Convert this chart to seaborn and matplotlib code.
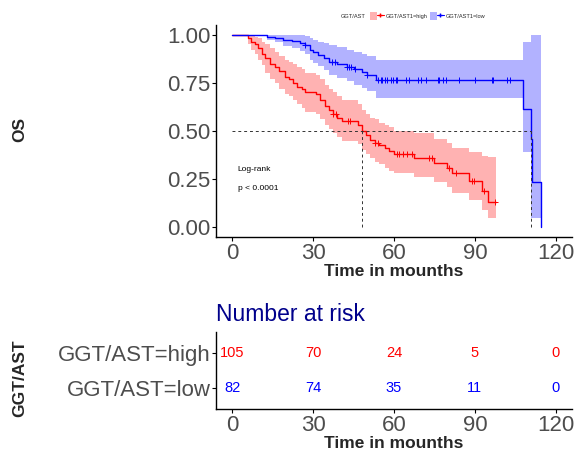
import numpy as np
import pandas as pd
import matplotlib
matplotlib.use("Agg")
import matplotlib.pyplot as plt
import seaborn as sns
from matplotlib.patches import Patch
from matplotlib.lines import Line2D
from matplotlib.legend_handler import HandlerTuple

# ---------------- data ----------------
high_time = [0, 5.9, 7, 8.5, 9.6, 11, 12.2, 14, 15.9, 17.5, 19.6, 21, 22.5, 24, 26, 27,
             31, 32.5, 34.3, 36, 37.3, 39, 40.6, 46.5, 48, 49.5, 51, 53, 54.6, 56.5,
             58.3, 60, 67.5, 75, 79.7, 81.5, 87.8, 92.6, 94.8, 97.8]
high_surv = [1.0, 0.98, 0.96, 0.95, 0.93, 0.90, 0.88, 0.85, 0.83, 0.81, 0.78, 0.77, 0.75, 0.73, 0.72, 0.70,
             0.69, 0.66, 0.63, 0.61, 0.59, 0.57, 0.55, 0.53, 0.50, 0.48, 0.455, 0.44, 0.425, 0.41,
             0.395, 0.38, 0.36, 0.335, 0.31, 0.28, 0.24, 0.19, 0.13, 0.13]
high_upper = [1.0, 1.0, 1.0, 0.99, 0.98, 0.96, 0.95, 0.93, 0.91, 0.89, 0.87, 0.86, 0.85, 0.83, 0.82, 0.80,
              0.79, 0.77, 0.74, 0.72, 0.70, 0.68, 0.66, 0.64, 0.61, 0.59, 0.57, 0.56, 0.54, 0.53,
              0.52, 0.50, 0.49, 0.46, 0.44, 0.41, 0.39, 0.37, 0.365, 0.365]
high_lower = [1.0, 0.95, 0.92, 0.90, 0.87, 0.84, 0.80, 0.77, 0.75, 0.72, 0.69, 0.68, 0.66, 0.64, 0.62, 0.60,
              0.59, 0.56, 0.53, 0.51, 0.49, 0.47, 0.45, 0.43, 0.40, 0.38, 0.36, 0.34, 0.33, 0.31,
              0.29, 0.28, 0.26, 0.235, 0.21, 0.18, 0.14, 0.09, 0.047, 0.047]
high_censor = [37.5, 38.5, 43, 43.8, 53, 54, 61, 62, 63.5, 65, 66.5, 73, 74, 80.5, 83,
               89, 89.6, 93.5, 97.5]

low_time = [0, 13, 16, 19, 22, 25, 27, 28.8, 30, 32, 34, 36, 39, 42.4, 45, 48, 50, 53.5,
            107.7, 110.7, 111.1, 114.6]
low_surv = [1.0, 0.99, 0.984, 0.974, 0.965, 0.958, 0.948, 0.92, 0.91, 0.895, 0.88, 0.86,
            0.85, 0.833, 0.82, 0.807, 0.79, 0.766, 0.615, 0.46, 0.234, 0.0]
low_upper = [1.0, 1.0, 1.0, 1.0, 1.0, 1.0, 0.995, 0.98, 0.97, 0.96, 0.955, 0.945,
             0.935, 0.92, 0.91, 0.90, 0.89, 0.87, 0.964, 1.0, 1.0, 1.0]
low_lower = [1.0, 0.97, 0.96, 0.94, 0.93, 0.915, 0.90, 0.87, 0.855, 0.835, 0.815, 0.79,
             0.775, 0.76, 0.74, 0.725, 0.705, 0.672, 0.39, 0.05, 0.05, 0.05]
low_censor = [27, 37, 38, 42.5, 43.3, 44.2, 45.4, 50, 54, 55.2, 55.7, 56.5, 57.5, 59, 59.5,
              60.8, 61, 64.5, 65.7, 68.8, 70, 71.9, 76.2, 76.8, 78, 79.3, 84.1, 90,
              96.2, 96.8, 102, 102.9]

risk_times = [0, 30, 60, 90, 120]
risk_high = [105, 70, 24, 5, 0]
risk_low = [82, 74, 35, 11, 0]
groups = ["GGT/AST=high", "GGT/AST=low"]
legend_labels = ["GGT/AST1=high", "GGT/AST1=low"]
x_ticks = [0, 30, 60, 90, 120]
y_ticks = [0.0, 0.25, 0.5, 0.75, 1.0]
median_high = 48
median_low = 110.9

RED = "#FF0000"
BLUE = "#0000FF"
GREY = "#4D4D4D"

sns.set_theme(style="white")
plt.rcParams["font.family"] = ["Liberation Sans", "DejaVu Sans"]

fig = plt.figure(figsize=(5.76, 4.58), dpi=100)
W, H = 576, 458


def ax_rect(l, t, r, b):
    return [l / W, 1 - b / H, (r - l) / W, (b - t) / H]


ax = fig.add_axes(ax_rect(216, 25, 572, 237))
ax2 = fig.add_axes(ax_rect(216, 332, 572, 409))

df = pd.concat([
    pd.DataFrame({"time": high_time, "surv": high_surv, "group": "high"}),
    pd.DataFrame({"time": low_time, "surv": low_surv, "group": "low"}),
])

# CI bands
ax.fill_between(high_time, high_lower, high_upper, step="post", color=RED, alpha=0.3, lw=0)
ax.fill_between(low_time, low_lower, low_upper, step="post", color=BLUE, alpha=0.3, lw=0)

sns.lineplot(data=df, x="time", y="surv", hue="group", palette={"high": RED, "low": BLUE},
             drawstyle="steps-post", estimator=None, sort=False, lw=1.0, ax=ax, legend=False)


def surv_at(times, surv, t):
    idx = np.searchsorted(times, t, side="right") - 1
    return np.asarray(surv)[idx]


ax.scatter(high_censor, [surv_at(high_time, high_surv, t) for t in high_censor],
           marker="+", s=16, color=RED, linewidths=0.7, zorder=4)
ax.scatter(low_censor, [surv_at(low_time, low_surv, t) for t in low_censor],
           marker="+", s=16, color=BLUE, linewidths=0.7, zorder=4)

# median lines
dash = dict(color="#333333", lw=0.7, ls=(0, (3, 3)))
ax.plot([0, median_low], [0.5, 0.5], **dash)
ax.plot([median_high, median_high], [0, 0.5], **dash)
ax.plot([median_low, median_low], [0, 0.5], **dash)

ax.text(2, 0.30, "Log-rank", fontsize=6, color="black", va="center")
ax.text(2, 0.203, "p < 0.0001", fontsize=6, color="black", va="center")

ax.set_xlim(-6, 126)
ax.set_ylim(-0.05, 1.05)
ax.set_xticks(x_ticks)
ax.set_yticks(y_ticks)
ax.set_yticklabels([f"{v:.2f}" for v in y_ticks])
ax.set_xlabel("Time in mounths", fontsize=12.5, fontweight="bold", labelpad=0)
ax.set_ylabel("")
for a in (ax, ax2):
    for s in ("top", "right"):
        a.spines[s].set_visible(False)
    for s in ("left", "bottom"):
        a.spines[s].set_color("black")
        a.spines[s].set_linewidth(1.0)
    a.tick_params(axis="both", which="both", length=3, width=0.8, color="black",
                  labelsize=16, labelcolor=GREY, pad=1, left=True, bottom=True)
    a.grid(False)

fig.text(20 / W, 1 - 130 / H, "OS", rotation=90, fontsize=12.5, fontweight="bold",
         ha="center", va="center")

# legend
fig.text(341 / W, 1 - 16 / H, "GGT/AST", fontsize=4.1, ha="left", va="center")
h1 = (Patch(facecolor=RED, alpha=0.3, edgecolor="none"),
      Line2D([], [], color=RED, lw=0.8, marker="+", markersize=3.5))
h2 = (Patch(facecolor=BLUE, alpha=0.3, edgecolor="none"),
      Line2D([], [], color=BLUE, lw=0.8, marker="+", markersize=3.5))
fig.legend([h1, h2], legend_labels, handler_map={tuple: HandlerTuple(ndivide=None)},
           loc="center left", bbox_to_anchor=(370 / W, 1 - 16 / H), ncol=2, frameon=False,
           fontsize=4.1, handlelength=2.4, handleheight=2.0, handletextpad=0.3,
           columnspacing=0.5, borderpad=0, borderaxespad=0)

# risk table
ax2.set_xlim(-6, 126)
ax2.set_ylim(0.42, 2.58)
for t, n in zip(risk_times, risk_high):
    ax2.text(t, 2, str(n), color=RED, fontsize=10.5, ha="center", va="center")
for t, n in zip(risk_times, risk_low):
    ax2.text(t, 1, str(n), color=BLUE, fontsize=10.5, ha="center", va="center")
ax2.set_yticks([2, 1])
ax2.set_yticklabels(groups)
ax2.set_xticks(x_ticks)
ax2.set_xlabel("Time in mounths", fontsize=12.5, fontweight="bold", labelpad=0)
ax2.set_title("Number at risk", loc="left", fontsize=16.5, color="#00008B", pad=8, x=0.0)
fig.text(20 / W, 1 - 378 / H, "GGT/AST", rotation=90, fontsize=12.5, fontweight="bold",
         ha="center", va="center")

fig.savefig("out.png", dpi=100)
